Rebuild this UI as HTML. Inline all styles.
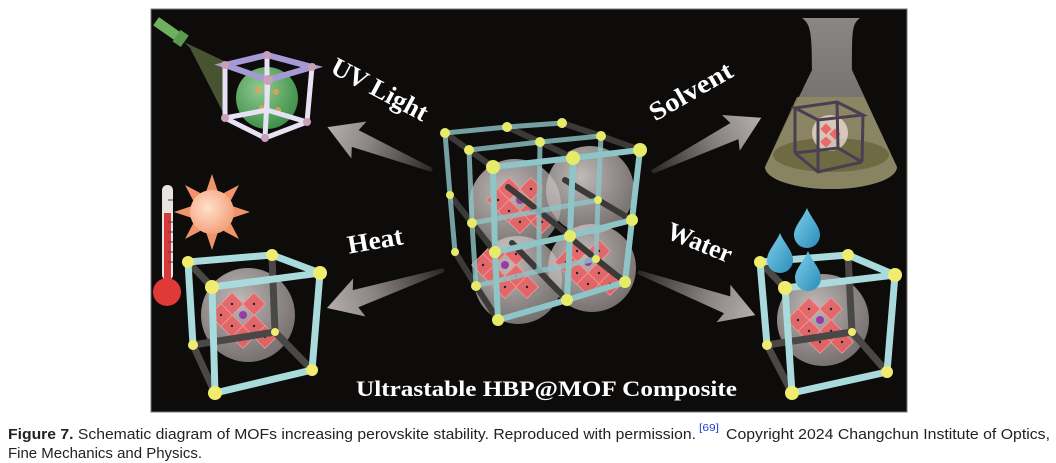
<!DOCTYPE html>
<html><head><meta charset="utf-8"><style>
html,body{margin:0;padding:0;background:#fff;width:1056px;height:463px;overflow:hidden}
svg{display:block}
</style></head><body>
<svg width="1056" height="463" viewBox="0 0 1056 463" xmlns="http://www.w3.org/2000/svg">
<defs>
<linearGradient id="ag" x1="0" y1="0" x2="1" y2="0">
<stop offset="0" stop-color="#2a2826"/><stop offset="0.6" stop-color="#8a8482"/><stop offset="1" stop-color="#b4aeac"/>
</linearGradient>
<radialGradient id="sph" cx="0.4" cy="0.35" r="0.7">
<stop offset="0" stop-color="#ebe6e4" stop-opacity="0.8"/><stop offset="1" stop-color="#aaa2a0" stop-opacity="0.65"/>
</radialGradient>
<radialGradient id="gsph" cx="0.4" cy="0.35" r="0.7">
<stop offset="0" stop-color="#9fe09f"/><stop offset="1" stop-color="#3f9a4c"/>
</radialGradient>
<radialGradient id="sun" cx="0.4" cy="0.4" r="0.7">
<stop offset="0" stop-color="#ffe0cc"/><stop offset="1" stop-color="#f29a70"/>
</radialGradient>
<linearGradient id="drop" x1="0" y1="0" x2="1" y2="1">
<stop offset="0" stop-color="#7fd0ec"/><stop offset="1" stop-color="#2a8cb8"/>
</linearGradient>
<linearGradient id="flask" x1="0" y1="0" x2="0" y2="1">
<stop offset="0" stop-color="#a09c9a"/><stop offset="1" stop-color="#6d6a66"/>
</linearGradient>
<g id="dia"><rect x="-8" y="-8" width="16" height="16" transform="rotate(45)" fill="#ec5f62" fill-opacity="0.85" stroke="#f59a9a" stroke-width="0.8"/><circle r="1.2" fill="#222"/></g>
<g id="clus">
<use href="#dia" x="-11" y="-11"/><use href="#dia" x="11" y="-11"/>
<use href="#dia" x="-11" y="11"/><use href="#dia" x="11" y="11"/>
<use href="#dia" x="-22" y="0"/><use href="#dia" x="0" y="22"/><use href="#dia" x="22" y="22"/>
<circle r="4" fill="#9a3aa8"/>
</g>
<path id="dp" d="M0,-20 C4,-10 13,-2 13,7 A13,13 0 0 1 -13,7 C-13,-2 -4,-10 0,-20Z" fill="url(#drop)"/>
</defs>

<rect x="151" y="9" width="756" height="403" fill="#0e0c0b" stroke="#777" stroke-width="1"/>

<g transform="translate(432,170) rotate(202.3)"><polygon points="0,-2 83,-9 79,-20 113,0 79,20 83,9 0,2" fill="url(#ag)"/></g>
<g transform="translate(652,172) rotate(-26.4)"><polygon points="0,-2 92,-9 88,-20 122,0 88,20 92,9 0,2" fill="url(#ag)"/></g>
<g transform="translate(444,270) rotate(162)"><polygon points="0,-2 93,-9 89,-20 123,0 89,20 93,9 0,2" fill="url(#ag)"/></g>
<g transform="translate(638,272) rotate(20.2)"><polygon points="0,-2 95,-9 91,-20 125,0 91,20 95,9 0,2" fill="url(#ag)"/></g>

<polygon points="184,42 226,62 228,122 190,48" fill="#8faa60" fill-opacity="0.45"/>
<g transform="translate(170,31) rotate(35)"><rect x="-17" y="-5" width="26" height="10" fill="#6fb060"/><rect x="8" y="-7" width="10" height="14" fill="#5c9a4e"/></g>
<circle cx="267" cy="98" r="31" fill="url(#gsph)" opacity="0.9"/>
<g fill="#f0a050" opacity="0.8"><circle cx="258" cy="90" r="3"/><circle cx="276" cy="92" r="3"/><circle cx="262" cy="108" r="3"/><circle cx="278" cy="110" r="3"/></g>
<g stroke="#e6e2f4" stroke-width="5" stroke-linecap="round" fill="none">
<polyline points="267,55 267,110"/><polyline points="225,65 225,118 265,138 307,122 312,67"/><line x1="268" y1="80" x2="265" y2="138"/><line x1="225" y1="118" x2="267" y2="110"/><line x1="267" y1="110" x2="307" y2="122"/>
</g>
<g stroke="#a69ad6" stroke-width="6" stroke-linecap="round" fill="none"><polygon points="225,65 267,55 312,67 268,80"/></g>
<g fill="#c9a0b8"><circle cx="225" cy="65" r="4"/><circle cx="267" cy="55" r="4"/><circle cx="312" cy="67" r="4"/><circle cx="268" cy="80" r="5"/><circle cx="225" cy="118" r="4"/><circle cx="265" cy="138" r="4"/><circle cx="307" cy="122" r="4"/></g>

<path d="M802,18 L860,18 C852,24 852,30 852,70 L897,167 A66,22 0 0 1 765,167 L812,70 C812,30 810,24 802,18Z" fill="url(#flask)" opacity="0.85"/>
<path d="M826,97 L864,97 L897,167 A66,22 0 0 1 765,167 L797,97Z" fill="#8f8a62" opacity="0.85"/>
<ellipse cx="831" cy="155" rx="58" ry="17" fill="#6e6a44"/>
<circle cx="830" cy="133" r="18" fill="#e8d8d0" opacity="0.8"/>
<g fill="#ec5f62" opacity="0.9"><rect x="822" y="125" width="8" height="8" transform="rotate(45 826 129)"/><rect x="831" y="130" width="8" height="8" transform="rotate(45 835 134)"/><rect x="822" y="138" width="8" height="8" transform="rotate(45 826 142)"/></g>
<g stroke="#4a3e52" stroke-width="3" fill="none">
<polygon points="795,108 837,102 863,115 818,120"/><line x1="795" y1="108" x2="795" y2="153"/><line x1="818" y1="120" x2="818" y2="172"/><line x1="863" y1="115" x2="862" y2="162"/><polyline points="795,153 818,172 862,162"/><line x1="837" y1="102" x2="838" y2="148"/><polyline points="795,153 838,148 862,162"/>
</g>

<rect x="162" y="185" width="11" height="95" rx="5" fill="#e8e4e0"/>
<rect x="164" y="213" width="7" height="70" fill="#d8383a"/>
<g stroke="#444" stroke-width="1"><line x1="168" y1="222" x2="173" y2="222"/><line x1="168" y1="232" x2="173" y2="232"/><line x1="168" y1="242" x2="173" y2="242"/><line x1="168" y1="252" x2="173" y2="252"/><line x1="168" y1="262" x2="173" y2="262"/><line x1="168" y1="200" x2="173" y2="200"/></g>
<circle cx="167" cy="292" r="14" fill="#e03a38"/>
<g transform="translate(212,212)" fill="#f0946a">
<polygon points="0,-38 6,-20 -6,-20"/><polygon points="0,38 6,20 -6,20"/><polygon points="-38,0 -20,6 -20,-6"/><polygon points="38,0 20,6 20,-6"/>
<polygon points="27,-27 18,-10 10,-18"/><polygon points="-27,27 -18,10 -10,18"/><polygon points="27,27 18,10 10,18"/><polygon points="-27,-27 -18,-10 -10,-18"/>
<circle r="22" fill="url(#sun)"/>
</g>
<circle cx="248" cy="315" r="47" fill="url(#sph)"/>
<use href="#clus" x="243" y="315"/>
<g stroke="#4a4846" stroke-width="7" stroke-linecap="round"><line x1="188" y1="262" x2="212" y2="287"/><line x1="193" y1="345" x2="215" y2="393"/><line x1="275" y1="332" x2="312" y2="370"/><line x1="193" y1="345" x2="275" y2="332"/><line x1="275" y1="332" x2="272" y2="255"/></g>
<g stroke="#a9dadc" stroke-width="7" stroke-linecap="round" fill="none">
<line x1="188" y1="262" x2="272" y2="255"/><line x1="188" y1="262" x2="193" y2="345"/><line x1="272" y1="255" x2="320" y2="273"/>
<polygon points="212,287 320,273 312,370 215,393"/>
</g>
<g fill="#f0ec70"><circle cx="188" cy="262" r="6"/><circle cx="272" cy="255" r="6"/><circle cx="320" cy="273" r="7"/><circle cx="212" cy="287" r="7"/><circle cx="193" cy="345" r="5"/><circle cx="215" cy="393" r="7"/><circle cx="312" cy="370" r="6"/><circle cx="275" cy="332" r="4"/></g>

<circle cx="823" cy="320" r="46" fill="url(#sph)"/>
<use href="#clus" x="820" y="320"/>
<g stroke="#4a4846" stroke-width="7" stroke-linecap="round"><line x1="767" y1="345" x2="792" y2="393"/><line x1="852" y1="332" x2="887" y2="372"/><line x1="767" y1="345" x2="852" y2="332"/><line x1="852" y1="332" x2="848" y2="255"/><line x1="760" y1="262" x2="785" y2="288"/></g>
<g stroke="#a9dadc" stroke-width="7" stroke-linecap="round" fill="none">
<line x1="760" y1="262" x2="848" y2="255"/><line x1="760" y1="262" x2="767" y2="345"/><line x1="848" y1="255" x2="895" y2="275"/>
<polygon points="785,288 895,275 887,372 792,393"/>
</g>
<g fill="#f0ec70"><circle cx="760" cy="262" r="6"/><circle cx="848" cy="255" r="6"/><circle cx="895" cy="275" r="7"/><circle cx="785" cy="288" r="7"/><circle cx="767" cy="345" r="5"/><circle cx="792" cy="393" r="7"/><circle cx="887" cy="372" r="6"/><circle cx="852" cy="332" r="4"/></g>
<use href="#dp" x="807" y="228"/><use href="#dp" x="780" y="253"/><use href="#dp" x="808" y="271"/>

<g fill="url(#sph)"><circle cx="515" cy="205" r="46"/><circle cx="590" cy="190" r="44"/><circle cx="518" cy="280" r="44"/><circle cx="592" cy="268" r="44"/></g>
<use href="#clus" x="520" y="200"/><use href="#clus" x="588" y="262"/><use href="#clus" x="505" y="265"/>
<g stroke="#3c3a38" stroke-width="6" stroke-linecap="round" fill="none">
<polyline points="445,133 469,150 493,167"/><polyline points="507,127 540,142 573,158"/><polyline points="562,123 601,136 640,150"/>
<polyline points="450,195 472,223 495,252"/><polyline points="508,187 539,211 570,236"/><polyline points="565,180 598,200 632,220"/>
<polyline points="455,252 476,286 498,320"/><polyline points="512,243 539,271 567,300"/><polyline points="568,236 596,259 625,282"/>
</g>
<g stroke="#8ec6c8" stroke-width="5" stroke-linecap="round" fill="none" opacity="0.8">
<polyline points="445,133 507,127 562,123"/><polyline points="445,133 450,195 455,252"/>
<polyline points="469,150 540,142 601,136"/><polyline points="469,150 472,223 476,286"/>
<polyline points="472,223 539,211 598,200"/><polyline points="476,286 539,271 596,259"/>
<polyline points="540,142 539,211 539,271"/><polyline points="601,136 598,200 596,259"/>
</g>
<g stroke="#8ec6c8" stroke-width="6" stroke-linecap="round" fill="none">
<polyline points="493,167 573,158 640,150"/><polyline points="495,252 570,236 632,220"/><polyline points="498,320 567,300 625,282"/>
<polyline points="493,167 495,252 498,320"/><polyline points="573,158 570,236 567,300"/><polyline points="640,150 632,220 625,282"/>
</g>
<g fill="#e6ec6a">
<circle cx="445" cy="133" r="5"/><circle cx="507" cy="127" r="5"/><circle cx="562" cy="123" r="5"/><circle cx="469" cy="150" r="5"/><circle cx="540" cy="142" r="5"/><circle cx="601" cy="136" r="5"/>
<circle cx="450" cy="195" r="4"/><circle cx="472" cy="223" r="5"/><circle cx="455" cy="252" r="4"/><circle cx="476" cy="286" r="5"/><circle cx="598" cy="200" r="4"/><circle cx="596" cy="259" r="4"/>
<circle cx="493" cy="167" r="7"/><circle cx="573" cy="158" r="7"/><circle cx="640" cy="150" r="7"/><circle cx="495" cy="252" r="6"/><circle cx="570" cy="236" r="6"/><circle cx="632" cy="220" r="6"/><circle cx="498" cy="320" r="6"/><circle cx="567" cy="300" r="6"/><circle cx="625" cy="282" r="6"/>
</g>

<g fill="#fff" font-family="Liberation Serif, serif" font-weight="bold" font-size="26">
<text x="380" y="98" text-anchor="middle" transform="rotate(28 380 89)" textLength="106" lengthAdjust="spacingAndGlyphs">UV Light</text>
<text x="690" y="100" text-anchor="middle" transform="rotate(-30 690 90)" textLength="92" lengthAdjust="spacingAndGlyphs">Solvent</text>
<text x="375" y="249" text-anchor="middle" transform="rotate(-10 375 240)" textLength="56" lengthAdjust="spacingAndGlyphs">Heat</text>
<text x="700" y="251" text-anchor="middle" transform="rotate(22 700 242)" textLength="68" lengthAdjust="spacingAndGlyphs">Water</text>
<text x="356" y="396" font-size="22" textLength="381" lengthAdjust="spacingAndGlyphs">Ultrastable HBP@MOF Composite</text>
</g>

<g font-family="Liberation Sans, sans-serif" font-size="14.5" fill="#222">
<text x="8" y="439" textLength="688" lengthAdjust="spacingAndGlyphs"><tspan font-weight="bold">Figure 7.</tspan>  Schematic diagram of MOFs increasing perovskite stability. Reproduced with permission.</text>
<text x="699" y="431" font-size="10.5" fill="#1a3fd8" textLength="20" lengthAdjust="spacingAndGlyphs">[69]</text>
<text x="726" y="439" textLength="324" lengthAdjust="spacingAndGlyphs">Copyright 2024 Changchun Institute of Optics,</text>
<text x="8" y="458" textLength="194" lengthAdjust="spacingAndGlyphs">Fine Mechanics and Physics.</text>
</g>
</svg>
</body></html>
